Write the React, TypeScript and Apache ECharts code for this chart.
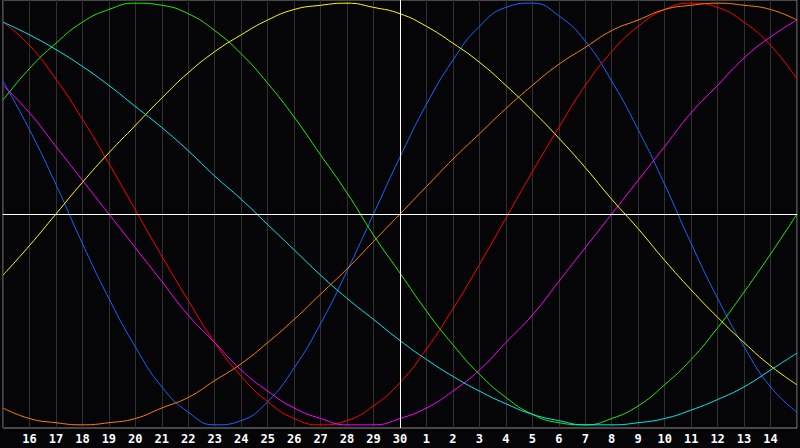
import React, { useEffect, useRef } from "react";
import * as echarts from "echarts";

// days shown: 15..30 of last month, then 1..15
const DAYS = [
    "15", "16", "17", "18", "19", "20", "21", "22", "23", "24", "25", "26", "27", "28", "29", "30",
    "1", "2", "3", "4", "5", "6", "7", "8", "9", "10", "11", "12", "13", "14", "15",
];
const TODAY = "30";

// values in percent at each day
const physical = [
    63, 40, 14, -14, -40, -63, -82, -94, -100, -98, -89, -73, -52, -27, 0, 27,
    52, 73, 89, 98, 100, 94, 82, 63, 40, 14, -14, -40, -63, -82, -94,
];
const emotional = [
    91, 80, 64, 45, 24, 2, -20, -41, -61, -77, -89, -97, -100, -98, -91, -80,
    -64, -45, -24, -2, 20, 41, 61, 77, 89, 97, 100, 98, 91, 80, 64,
];
const intellectual = [
    54, 69, 81, 91, 97, 100, 99, 95, 87, 76, 62, 46, 28, 10, -10, -28,
    -46, -62, -76, -87, -95, -99, -100, -97, -91, -81, -69, -54, -37, -19, 0,
];
const intuitive = [
    61, 48, 32, 16, 0, -16, -32, -48, -61, -74, -84, -92, -97, -100, -100, -97,
    -92, -84, -74, -61, -48, -32, -16, 0, 16, 32, 48, 61, 74, 84, 92,
];
const aesthetic = [
    -29, -15, 0, 15, 29, 42, 55, 67, 77, 85, 92, 97, 99, 100, 98, 95,
    89, 81, 72, 61, 49, 36, 22, 7, -7, -22, -36, -49, -61, -72, -81,
];
const awareness = [
    -92, -97, -99, -100, -99, -97, -92, -87, -79, -71, -61, -50, -38, -26, -13, 0,
    13, 26, 38, 50, 61, 71, 79, 87, 92, 97, 99, 100, 99, 97, 92,
];
const spiritual = [
    91, 85, 78, 70, 61, 51, 41, 30, 18, 7, -5, -17, -29, -40, -50, -60,
    -69, -77, -84, -90, -95, -98, -100, -100, -99, -97, -93, -88, -82, -74, -66,
];

const SERIES = [
    { name: "Physical", data: physical, color: "#1a66ff" },
    { name: "Emotional", data: emotional, color: "#ff0000" },
    { name: "Intellectual", data: intellectual, color: "#22ee00" },
    { name: "Intuitive", data: intuitive, color: "#ff00ff" },
    { name: "Aesthetic", data: aesthetic, color: "#ffff00" },
    { name: "Awareness", data: awareness, color: "#ff8000" },
    { name: "Spiritual", data: spiritual, color: "#00eeee" },
];

export default function App() {
    const ref = useRef<HTMLDivElement | null>(null);

    useEffect(() => {
        if (!ref.current) return;
        const inst = echarts.init(ref.current, undefined, { renderer: "svg" });

        const series: any[] = SERIES.map((s, idx) => ({
            name: s.name,
            type: "line",
            data: s.data,
            smooth: true,
            showSymbol: false,
            silent: true,
            lineStyle: { color: s.color, width: 1 },
            itemStyle: { color: s.color },
            markLine:
                idx === 0
                    ? {
                          silent: true,
                          symbol: "none",
                          label: { show: false },
                          lineStyle: { color: "#ffffff", type: "solid", width: 1 },
                          data: [{ yAxis: 0 }, { xAxis: TODAY }],
                      }
                    : undefined,
        }));

        inst.setOption({
            animation: false,
            backgroundColor: "#050507",
            grid: {
                left: 0,
                right: 1,
                top: 0,
                height: 428,
                show: true,
                borderColor: "#8c8c8c",
                borderWidth: 1,
                backgroundColor: "#050507",
            },
            xAxis: {
                type: "category",
                data: DAYS,
                boundaryGap: false,
                axisLine: { show: true, lineStyle: { color: "#8c8c8c", width: 1 } },
                axisTick: { show: false },
                axisLabel: {
                    interval: 0,
                    margin: 5,
                    color: "#ffffff",
                    fontFamily: "DejaVu Sans Mono",
                    fontWeight: "bold",
                    fontSize: 12,
                    formatter: (v: string, i: number) => (i === 0 || i === DAYS.length - 1 ? "" : v),
                },
                splitLine: { show: true, interval: 0, lineStyle: { color: "#303030", width: 1 } },
            },
            yAxis: {
                type: "value",
                min: -101.5,
                max: 101.5,
                show: false,
                splitLine: { show: false },
            },
            series,
        });

        return () => {
            inst.dispose();
        };
    }, []);

    return (
        <div
            style={{ position: "fixed", left: 0, top: 0, width: 800, height: 448, background: "#050507" }}
        >
            <div ref={ref} style={{ width: 800, height: 448 }} />
        </div>
    );
}
